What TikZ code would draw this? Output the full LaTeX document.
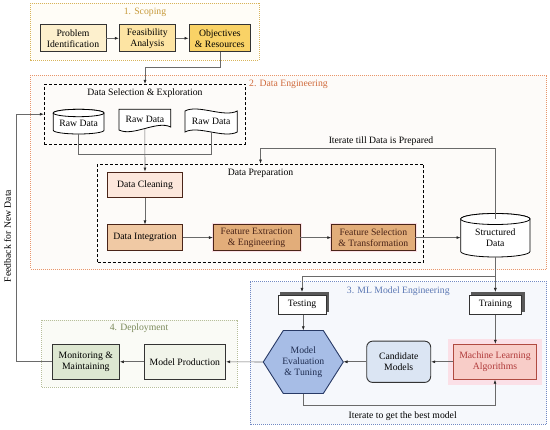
\documentclass[tikz,border=0pt]{standalone}
\usepackage{fontspec}
\setmainfont{Liberation Serif}
\usetikzlibrary{arrows.meta,calc,shadows}
\pgfdeclarelayer{back}\pgfdeclarelayer{mid}
\pgfsetlayers{back,mid,main}
\definecolor{scopeC}{HTML}{D8B45A}\definecolor{scopeBg}{HTML}{FFFDF7}\definecolor{scopeT}{HTML}{C79A3A}
\definecolor{pidC}{HTML}{FDF0CD}\definecolor{feaC}{HTML}{FDE4A3}\definecolor{objC}{HTML}{F9D266}
\definecolor{deC}{HTML}{E8956A}\definecolor{deBg}{HTML}{FDFBF9}\definecolor{deT}{HTML}{D06A3C}
\definecolor{cleanC}{HTML}{FCE7DC}\definecolor{integC}{HTML}{F0C9A4}\definecolor{fextC}{HTML}{E2AD7A}
\definecolor{brownL}{HTML}{4A2418}
\definecolor{mlC}{HTML}{7189C4}\definecolor{mlBg}{HTML}{F6F8FC}\definecolor{mlT}{HTML}{5B78B4}
\definecolor{hexC}{HTML}{A7BDE6}\definecolor{hexL}{HTML}{283A66}\definecolor{candC}{HTML}{DBE5F3}
\definecolor{mlaC}{HTML}{F8CDC8}\definecolor{mlaL}{HTML}{B04A40}\definecolor{mlaT}{HTML}{B03A3A}
\definecolor{dpC}{HTML}{B7BF9A}\definecolor{dpBg}{HTML}{FAFBF6}\definecolor{dpT}{HTML}{7B8A5B}
\definecolor{monC}{HTML}{DDE7D1}\definecolor{prodC}{HTML}{F1F4EA}
\definecolor{lineG}{HTML}{6A6A6A}\definecolor{glow}{HTML}{FBE0E7}
\begin{document}
\begin{tikzpicture}[x=1pt,y=-1pt,font=\fontsize{9.7}{11}\selectfont,
 box/.style={draw=black!80, line width=0.9pt, align=center, inner sep=1pt},
 frame/.style={line width=0.8pt, dash pattern=on 1pt off 1pt},
 dbox/.style={draw=black, line width=0.9pt, dash pattern=on 3pt off 2pt},
 conn/.style={draw=lineG, line width=0.6pt},
 arr/.style={conn, -{Latex[length=4pt,width=3pt,color=black!85]}},
 txt/.style={inner sep=0pt, align=center},
 shp/.style={draw=black, line width=0.8pt, fill=white},
 sh3d/.style={box, fill=white, copy shadow={shadow xshift=2.6pt, shadow yshift=2.6pt, fill=black!65, draw=black!65}}
]
\useasboundingbox (0,0) rectangle (550,430);

% ---------- frames
\begin{pgfonlayer}{back}
\draw[frame, draw=scopeC, fill=scopeBg] (30,3.3) rectangle (259,60);
\draw[frame, draw=deC, fill=deBg] (30.7,75) rectangle (546.7,269);
\draw[frame, draw=mlC, fill=mlBg] (250,281.7) rectangle (546.7,424.3);
\draw[frame, draw=dpC, fill=dpBg] (41.7,320) rectangle (237.3,387.3);
\end{pgfonlayer}

\node[txt, text=scopeT] (t1) at (145,12) {1. Scoping};
\node[txt, text=deT] (t2) at (288.5,84) {2. Data Engineering};
\node[txt, text=mlT] (t3) at (398.3,290.7) {3. ML Model Engineering};
\node[txt, text=dpT] (t4) at (139,328.3) {4. Deployment};

% ---------- scoping
\node[box, fill=pidC, minimum width=66pt, minimum height=27.3pt] (pid) at (73,38.3) {Problem\\Identification};
\node[box, fill=feaC, minimum width=56pt, minimum height=27.3pt] (fea) at (147.3,38.3) {Feasibility\\Analysis};
\node[box, fill=objC, minimum width=61.7pt, minimum height=27.3pt] (obj) at (219.85,38.3) {Objectives\\\& Resources};
\draw[arr] (pid) -- (fea);
\draw[arr] (fea) -- (obj);

% ---------- data selection
\node[dbox, minimum width=201.4pt, minimum height=59.7pt] (dsel) at (145,114.2) {};
\node[txt] (dselt) at (145,93.3) {Data Selection \& Exploration};
\draw[arr] (obj.south) -- ++(0,15) -| (dsel.north);

\begin{pgfonlayer}{mid}
\draw[shp] (53.3,113) -- (53.3,130.3) arc[start angle=180,end angle=360,x radius=25.35pt,y radius=3.7pt] -- (104,113) arc[start angle=0,end angle=180,x radius=25.35pt,y radius=3.7pt] -- cycle;
\draw[shp] (78.65,113) ellipse[x radius=25.35pt,y radius=3.7pt];
\draw[shp] (119,109.3) -- (170.7,109.3) -- (170.7,127) .. controls (157,120) and (133,137) .. (119,130) -- cycle;
\draw[shp] (185,111) .. controls (198,104) and (224,118) .. (237.3,111) -- (237.3,132) .. controls (224,139) and (198,125) .. (185,132) -- cycle;
% structured data cylinder
\draw[shp] (460.7,219) -- (460.7,251.5) arc[start angle=180,end angle=360,x radius=34.65pt,y radius=5.5pt] -- (530,219) arc[start angle=0,end angle=180,x radius=34.65pt,y radius=5.5pt] -- cycle;
\draw[shp] (495.35,219) ellipse[x radius=34.65pt,y radius=5.5pt];
% hexagon
\draw[draw=hexL, line width=0.9pt, fill=hexC] (263.3,362) -- (283.3,330.5) -- (323.3,330.5) -- (343.3,362) -- (323.3,393.5) -- (283.3,393.5) -- cycle;
\end{pgfonlayer}

\node[txt, minimum width=50.7pt, minimum height=21pt] (r1) at (78.65,123.5) {Raw Data};
\node[txt, minimum width=51.7pt, minimum height=19.2pt] (r2) at (144.85,118.9) {Raw Data};
\node[txt, minimum width=52.3pt, minimum height=21pt] (r3) at (211.15,121.5) {Raw Data};
\draw[conn] (r1.south) -- ++(0,20) -| (r3.south);

% ---------- data preparation
\node[dbox, minimum width=325.6pt, minimum height=98.7pt] (dprep) at (260.5,213.35) {};
\node[txt] (dprept) at (260.5,173) {Data Preparation};
\node[box, draw=brownL, fill=cleanC, minimum width=74.6pt, minimum height=25.7pt] (clean) at (145,184.85) {Data Cleaning};
\node[box, draw=brownL, fill=integC, minimum width=75.4pt, minimum height=25.3pt] (integ) at (145,237.6) {Data Integration};
\node[box, draw=brownL, fill=fextC, text=brownL, minimum width=86.7pt, minimum height=25.3pt, preaction={draw=glow, line width=3pt}] (fext) at (256.65,237.6) {Feature Extraction\\\& Engineering};
\node[box, draw=brownL, fill=fextC, text=brownL, minimum width=83.3pt, minimum height=25.3pt, preaction={draw=glow, line width=3pt}] (fsel) at (373.35,237.6) {Feature Selection\\\& Transformation};
\node[txt, minimum width=69.3pt, minimum height=38pt] (sd) at (495.35,238) {Structured\\Data};

\draw[arr] (r2.south) -- (clean.north);
\draw[arr] (clean) -- (integ);
\draw[arr] (integ) -- (fext);
\draw[arr] (fext) -- (fsel);
\draw[arr] (fsel.east) -- (fsel.east -| sd.west);
\draw[arr] (sd.north) -- ++(0,-70) -| (dprep.north);
\node[txt] (lab1) at (381,141) {Iterate till Data is Prepared};

% ---------- ML model engineering
\node[sh3d, minimum width=48pt, minimum height=19.3pt] (test) at (302,304.7) {Testing};
\node[sh3d, minimum width=52.7pt, minimum height=19.3pt] (train) at (495.35,304.7) {Training};
\node[txt, text=hexL!80!black, minimum width=80pt, minimum height=63pt] (hex) at (303.3,362) {Model\\Evaluation\\\& Tuning};
\node[box, fill=candC, rounded corners=6pt, minimum width=64pt, minimum height=41.3pt] (cand) at (398.7,361.8) {Candidate\\Models};
\node[box, draw=mlaL, fill=mlaC, text=mlaT, minimum width=83.4pt, minimum height=35pt, preaction={draw=glow, line width=11pt}] (mla) at (495,361.8) {Machine Learning\\Algorithms};

\draw[arr, shorten >=2.6pt] (sd.south) -- ++(0,19) -| (test.north);
\draw[arr, shorten >=2.6pt] (sd.south) -- (sd.south |- train.north);
\draw[arr] (test.south -| hex.north) -- (hex.north);
\draw[arr] (train.south) -- (train.south |- mla.north);
\draw[arr] (mla) -- (cand);
\draw[arr] (cand.west) -- (cand.west -| hex.east);
\draw[arr] (hex.south) -- ++(0,12) -| (mla.south);
\node[txt] (lab2) at (402.7,415.7) {Iterate to get the best model};

% ---------- deployment
\node[box, line width=1.2pt, fill=monC, minimum width=67pt, minimum height=35pt] (mon) at (85.8,361.8) {Monitoring \&\\Maintaining};
\node[box, fill=prodC, minimum width=81.7pt, minimum height=35pt] (prod) at (184.85,361.8) {Model Production};
\draw[arr] (hex.west) -- (prod.east);
\draw[arr] (prod) -- (mon);

% ---------- feedback
\coordinate (fbc) at (16.7,361.8);
\draw[arr] (mon.west) -- (fbc) |- (dsel.west);
\node[txt, rotate=90] (fbl) at (7.5,236) {Feedback for New Data};
\end{tikzpicture}
\end{document}
